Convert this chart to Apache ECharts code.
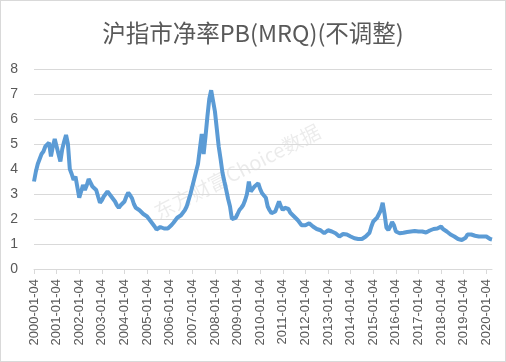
<!DOCTYPE html>
<html>
<head>
<meta charset="utf-8">
<script src="https://cdn.jsdelivr.net/npm/echarts@6/dist/echarts.min.js"></script>
<style>
html,body{margin:0;padding:0;background:#fff;}
#c{width:506px;height:362px;box-sizing:border-box;border:1px solid #d9d9d9;}
</style>
</head>
<body>
<div id="c"></div>
<script>
// Year tick labels (first trading day label as printed)
const tickLabels = ["2000-01-04","2001-01-04","2002-01-04","2003-01-04","2004-01-04","2005-01-04","2006-01-04","2007-01-04","2008-01-04","2009-01-04","2010-01-04","2011-01-04","2012-01-04","2013-01-04","2014-01-04","2015-01-04","2016-01-04","2017-01-04","2018-01-04","2019-01-04","2020-01-04"];
const monthsLast = 4; // data ends 2020-04

// Monthly PB values
const pb2000 = [3.5,3.9,4.2,4.4,4.6,4.7,4.9,4.95,5.05,4.5,4.9,5.2];
const pb2001 = [4.9,4.6,4.3,4.8,5.1,5.36,5.0,4.0,3.8,3.56,3.7,3.67];
const pb2002 = [2.85,3.1,3.36,3.16,3.35,3.6,3.45,3.3,3.25,3.16,2.9,2.65];
const pb2003 = [2.75,2.9,3.0,3.1,3.0,2.9,2.83,2.7,2.55,2.45,2.55,2.6];
const pb2004 = [2.7,2.9,3.05,2.95,2.83,2.6,2.45,2.4,2.35,2.3,2.2,2.15];
const pb2005 = [2.1,2.0,1.9,1.85,1.7,1.58,1.62,1.68,1.7,1.62,1.56,1.62];
const pb2006 = [1.7,1.76,1.85,1.92,2.05,2.1,2.15,2.25,2.35,2.5,2.75,3.0];
const pb2007 = [3.3,3.6,3.56,4.2,4.8,5.4,4.6,5.3,6.1,6.8,7.15,7.1];
const pb2008 = [6.3,5.6,4.9,4.4,3.85,3.5,3.16,2.8,2.5,2.0,1.96,2.05];
const pb2009 = [2.2,2.36,2.45,2.56,2.75,3.0,3.5,3.1,3.2,3.3,3.35,3.43];
const pb2010 = [3.2,3.03,2.95,2.85,2.5,2.35,2.23,2.3,2.3,2.5,2.7,2.5];
const pb2011 = [2.36,2.45,2.5,2.4,2.25,2.18,2.1,2.05,1.95,1.85,1.75,1.7];
const pb2012 = [1.75,1.8,1.83,1.75,1.7,1.63,1.6,1.58,1.55,1.5,1.43,1.5];
const pb2013 = [1.55,1.56,1.5,1.45,1.43,1.38,1.3,1.33,1.4,1.43,1.38,1.33];
const pb2014 = [1.3,1.27,1.23,1.22,1.2,1.2,1.2,1.25,1.3,1.35,1.45,1.7];
const pb2015 = [1.9,1.95,2.05,2.2,2.35,2.65,2.2,1.65,1.56,1.7,1.88,1.75];
const pb2016 = [1.5,1.45,1.43,1.45,1.45,1.47,1.48,1.5,1.5,1.5,1.52,1.5];
const pb2017 = [1.5,1.5,1.5,1.48,1.46,1.5,1.54,1.57,1.6,1.6,1.62,1.65];
const pb2018 = [1.7,1.6,1.56,1.5,1.45,1.38,1.35,1.3,1.25,1.2,1.18,1.16];
const pb2019 = [1.18,1.25,1.38,1.45,1.38,1.33,1.33,1.32,1.3,1.3,1.3,1.32];
const pb2020 = [1.3,1.26,1.2,1.18];

const values = [].concat(pb2000,pb2001,pb2002,pb2003,pb2004,pb2005,pb2006,pb2007,pb2008,pb2009,pb2010,pb2011,pb2012,pb2013,pb2014,pb2015,pb2016,pb2017,pb2018,pb2019,pb2020);

const categories = [];
tickLabels.forEach(function(lbl, i){
  const y = lbl.slice(0,4);
  const n = (i === tickLabels.length - 1) ? monthsLast : 12;
  for (let m = 1; m <= n; m++) {
    categories.push(m === 1 ? lbl : y + '-' + (m < 10 ? '0' + m : m));
  }
});

const chart = echarts.init(document.getElementById('c'), null, {renderer:'canvas'});
chart.setOption({
  animation:false,
  backgroundColor:'#fff',
  title:{
    text:'沪指市净率PB(MRQ)(不调整)',
    left:'center', top:15,
    textStyle:{fontFamily:'Noto Sans CJK SC', fontSize:23.5, fontWeight:'normal', color:'#595959'}
  },
  grid:{left:33, right:13, top:68, bottom:92, containLabel:false},
  xAxis:{
    type:'category',
    data:categories,
    boundaryGap:false,
    axisLine:{lineStyle:{color:'#d9d9d9'}},
    axisTick:{show:true, interval:11, length:5, lineStyle:{color:'#d9d9d9'}},
    axisLabel:{interval:11, rotate:90, margin:10, color:'#595959', fontSize:13, fontFamily:'Liberation Sans'}
  },
  yAxis:{
    type:'value', min:0, max:8, interval:1,
    axisLine:{show:false}, axisTick:{show:false},
    splitLine:{lineStyle:{color:'#d9d9d9'}},
    axisLabel:{margin:16, color:'#595959', fontSize:14, fontFamily:'Liberation Sans'}
  },
  graphic:[{
    type:'text', left:150, top:120, rotation:Math.PI*27/180,
    style:{text:'东方财富Choice数据', fontSize:20, fontFamily:'Noto Sans CJK SC', fill:'rgba(0,0,0,0.08)'},
    z:0
  }],
  series:[{
    type:'line',
    data:values,
    showSymbol:false,
    lineStyle:{color:'#5b9bd5', width:4},
    z:2
  }]
});
</script>
</body>
</html>
